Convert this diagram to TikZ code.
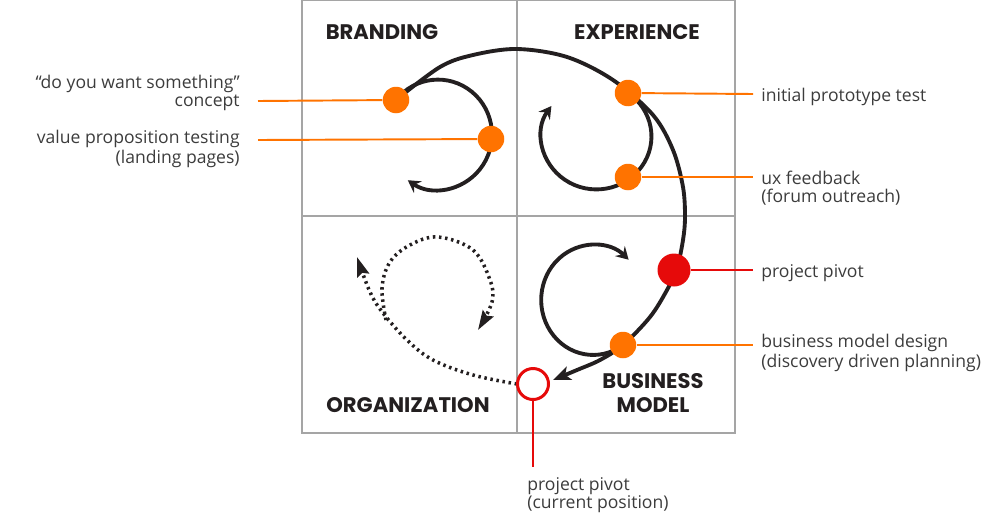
\documentclass[tikz,border=0pt]{standalone}
\usepackage{fontspec}
\setmainfont{Open Sans}
\newfontfamily\headfont{Poppins}
\usepackage{xcolor}
\definecolor{pvorange}{RGB}{255,115,0}
\definecolor{pvred}{RGB}{230,10,10}
\definecolor{pvgray}{RGB}{165,165,165}
\definecolor{pvink}{RGB}{35,31,32}
\definecolor{pvtext}{RGB}{60,60,60}
\usetikzlibrary{arrows.meta}

\begin{document}
\begin{tikzpicture}[x=0.02cm, y=-0.02cm,
  gridline/.style={pvgray, line width=0.6pt},
  loopline/.style={pvink, line width=2.2pt},
  dotline/.style={pvink, line width=2pt, dash pattern=on 1.4pt off 2.1pt},
  looptip/.style={-{Stealth[length=7pt, width=8pt, inset=2.5pt]}},
  bigtip/.style={-{Stealth[length=10pt, width=8pt, inset=2.5pt]}},
  dottip/.style={-{Stealth[length=11pt, width=7pt, inset=1.5pt]}},
  odot/.style={circle, fill=pvorange, minimum size=0.53cm, inner sep=0pt},
  rdot/.style={circle, fill=pvred, minimum size=0.66cm, inner sep=0pt},
  rring/.style={circle, draw=pvred, fill=white, line width=1.7pt, minimum size=0.62cm, inner sep=0pt},
  lead/.style={pvorange, line width=1.1pt},
  redlead/.style={pvred, line width=1.1pt},
  quad/.style={font=\headfont\bfseries\fontsize{12}{13.6}\selectfont, pvink, inner sep=0pt},
  note/.style={font=\fontsize{10}{9.9}\selectfont, pvtext, inner sep=0pt}]

\useasboundingbox (0,0) rectangle (1000,514);

% --- Grid ---
\draw[gridline] (302,0) rectangle (735,433);
\draw[gridline] (517,0) -- (517,433);
\draw[gridline] (302,216) -- (735,216);

% Quadrant titles
\node[quad, anchor=base] (branding) at (382,39) {BRANDING};
\node[quad, anchor=base] (experience) at (637,39) {EXPERIENCE};
\node[quad, anchor=base] (organization) at (408,412) {ORGANIZATION};
\node[quad, anchor=base] (business) at (653,388) {BUSINESS};
\node[quad, anchor=base] (model) at (653,412) {MODEL};

% --- Loops ---
\draw[loopline, looptip] (396,100) arc[start angle=-141, end angle=124, x radius=54, y radius=55];
\draw[loopline, looptip] (628,93) arc[start angle=-55, end angle=215, x radius=55, y radius=53];
\draw[loopline, looptip] (623,345) arc[start angle=55, end angle=313, x radius=52, y radius=55];

% Main path
\draw[loopline, bigtip] plot[smooth, tension=0.55] coordinates {(396,100) (440,67) (473,55)
  (517,49) (567,57) (613,80) (653,115) (673,150) (683,187) (685,217) (683,240) (677,268)
  (667,290) (650,317) (623,345) (600,360) (577,370) (553,380)};

% Organization (dotted)
\draw[dotline, dottip] plot[smooth, tension=0.6] coordinates {(517,384) (473,375) (433,360)
  (407,340) (383,313) (370,292) (357,257)};
\draw[dotline, dottip] plot[smooth, tension=0.6] coordinates {(386,320) (382,288) (390,262)
  (410,245) (438,237) (473,250) (490,280) (492,302) (478,330)};

% --- Markers ---
\node[odot] (concept) at (396,100) {};
\node[odot] (value) at (491,139) {};
\node[odot] (proto) at (628,93) {};
\node[odot] (ux) at (628,177) {};
\node[rdot] (pivot) at (674,270) {};
\node[odot] (bizdesign) at (623,345) {};
\node[rring] (now) at (533,384) {};

% Leader lines
\coordinate (lconcept) at (258,101);
\coordinate (lvalue) at (258,140);
\coordinate (lproto) at (753,94);
\coordinate (lux) at (753,177);
\coordinate (lpivot) at (753,270);
\coordinate (lbiz) at (753,345);
\coordinate (lnow) at (533,467);
\draw[lead] (concept) -- (lconcept);
\draw[lead] (value) -- (lvalue);
\draw[lead] (proto) -- (lproto);
\draw[lead] (ux) -- (lux);
\draw[redlead] (pivot) -- (lpivot);
\draw[lead] (bizdesign) -- (lbiz);
\draw[redlead, line width=1.5pt] (now) -- (lnow);

% --- Notes ---
\node[note, anchor=base east, align=right] (tconcept) at (240,106) {“do you want something”\\concept};
\node[note, anchor=base east, align=right] (tvalue) at (240,163) {value proposition testing\\(landing pages)};
\node[note, anchor=base west] (tproto) at (761,101) {initial prototype test};
\node[note, anchor=base west, align=left] (tux) at (761,202) {ux feedback\\(forum outreach)};
\node[note, anchor=base west] (tpivot) at (761,277) {project pivot};
\node[note, anchor=base west, align=left] (tbiz) at (761,367) {business model design\\(discovery driven planning)};
\node[note, anchor=base west, align=left] (tnow) at (527,508) {project pivot\\(current position)};

\end{tikzpicture}
\end{document}
